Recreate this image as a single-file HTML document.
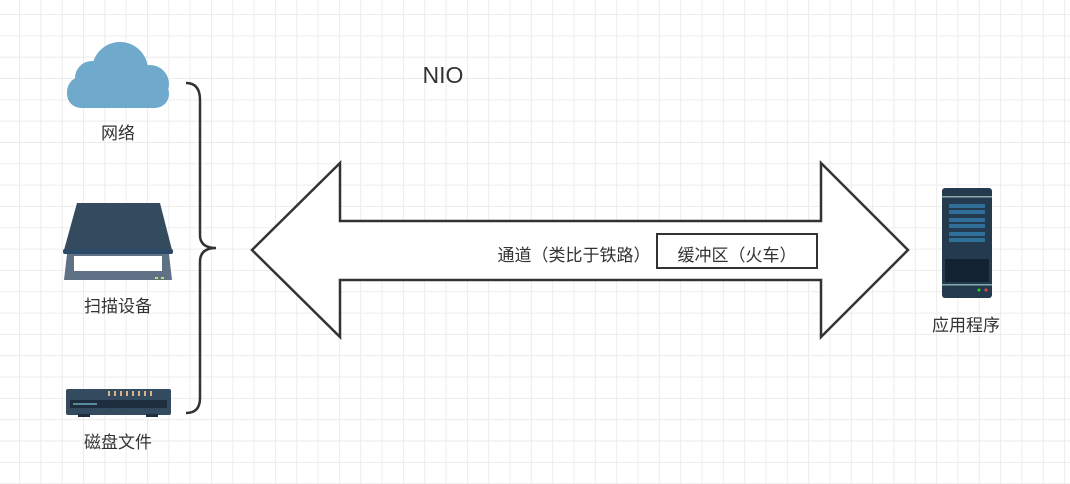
<!DOCTYPE html>
<html><head><meta charset="utf-8"><style>
html,body{margin:0;padding:0;}
body{width:1070px;height:484px;overflow:hidden;position:relative;background-color:#fff;
background-image:
linear-gradient(to right,#ececec 1px,transparent 1px),
linear-gradient(to bottom,#ececec 1px,transparent 1px);
background-size:21.33px 21.33px,21.33px 21.33px;
background-position:19px 14px,19px 14px;
font-family:"Liberation Sans","Noto Sans CJK SC",sans-serif;}
.t{position:absolute;font-size:17px;color:#333;white-space:nowrap;transform:translateX(-50%);}
</style></head><body>
<svg width="1070" height="484" style="position:absolute;left:0;top:0">
<g fill="#6fa9cb">
<circle cx="120" cy="70" r="28"/>
<circle cx="92" cy="78" r="17"/>
<circle cx="150" cy="84" r="19"/>
<circle cx="83" cy="92" r="16"/>
<rect x="67" y="80" width="102" height="28" rx="14"/>
</g>
<path d="M77 203 L160 203 L172 250 L64 250 Z" fill="#344a5e"/>
<rect x="63" y="249" width="110" height="5" rx="2" fill="#2b4a68"/>
<path d="M67 254 L169 254 L172 280 L64 280 Z" fill="#5f7185"/>
<rect x="74" y="256" width="88" height="15" fill="#fff"/>
<rect x="155" y="277" width="3" height="2" fill="#cddc5a"/><rect x="161" y="277" width="3" height="2" fill="#cddc5a"/>
<rect x="66" y="389" width="105" height="26" rx="2" fill="#344a5e"/>
<rect x="70" y="400" width="97" height="8" fill="#1e2e3e"/>
<rect x="73" y="403" width="24" height="2" fill="#5a8aa0"/>
<g fill="#d8b48a"><rect x="108" y="391" width="2" height="5"/><rect x="114" y="391" width="2" height="5"/><rect x="120" y="391" width="2" height="5"/><rect x="126" y="391" width="2" height="5"/><rect x="132" y="391" width="2" height="5"/><rect x="138" y="391" width="2" height="5"/><rect x="144" y="391" width="2" height="5"/><rect x="150" y="391" width="2" height="5"/></g>
<rect x="78" y="414" width="12" height="3" fill="#1e2e3e"/><rect x="146" y="414" width="12" height="3" fill="#1e2e3e"/>
<path d="M186 83 Q200 83 200 100 L200 235 Q200 248 216 248 Q200 248 200 262 L200 398 Q200 413 186 413" fill="none" stroke="#333" stroke-width="2.5"/>
<path d="M252 250 L340 163 L340 221 L821 221 L821 163 L908 250 L821 337 L821 280 L340 280 L340 337 Z" fill="#fff" stroke="#333" stroke-width="2.5"/>
<rect x="657" y="234" width="160" height="34" fill="#fff" stroke="#333" stroke-width="2"/>
<rect x="942" y="188" width="50" height="110" rx="3" fill="#243b4f"/>
<rect x="942" y="196" width="50" height="1.5" fill="#8aa"/>
<g fill="#2f6f99"><rect x="949" y="204" width="36" height="4"/><rect x="949" y="210" width="36" height="4"/><rect x="949" y="218" width="36" height="4"/><rect x="949" y="224" width="36" height="4"/><rect x="949" y="232" width="36" height="4"/><rect x="949" y="238" width="36" height="4"/></g>
<rect x="945" y="259" width="44" height="23" fill="#132230"/>
<rect x="942" y="284" width="50" height="1.5" fill="#8aa"/>
<circle cx="979" cy="290" r="1.5" fill="#3c3"/><circle cx="986" cy="290" r="1.5" fill="#e44"/>
</svg>
<div class="t" style="left:443px;top:62px;font-size:23px;">NIO</div>
<div class="t" style="left:118px;top:119px">网络</div>
<div class="t" style="left:118px;top:292px">扫描设备</div>
<div class="t" style="left:118px;top:428px">磁盘文件</div>
<div class="t" style="left:966px;top:311px">应用程序</div>
<div class="t" style="left:574px;top:241px">通道（类比于铁路）</div>
<div class="t" style="left:737px;top:241px">缓冲区（火车）</div>
</body></html>
